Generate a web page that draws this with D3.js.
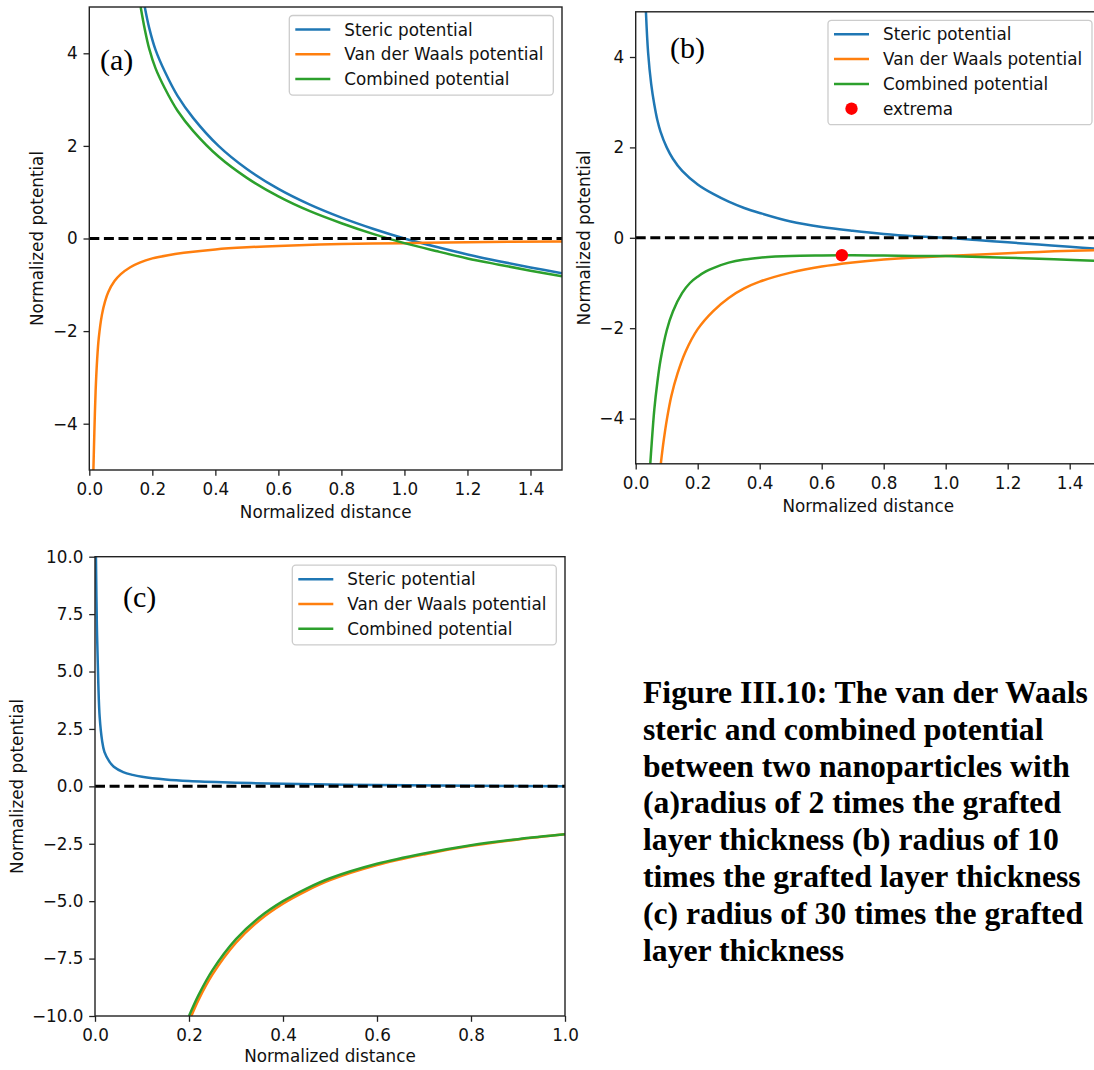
<!DOCTYPE html>
<html>
<head>
<meta charset="utf-8">
<script src="https://cdn.jsdelivr.net/npm/d3@7"></script>
<style>
  html, body { margin: 0; padding: 0; background: #fff; overflow: hidden; }
</style>
</head>
<body>
<svg id="fig" width="1094" height="1070"></svg>
<script>
// ---- Data ---------------------------------------------------------------
const seriesNames = ["Steric potential", "Van der Waals potential", "Combined potential"];
const extremaName = "extrema";
const panelLabels = ["(a)", "(b)", "(c)"];
const xLabel = "Normalized distance";
const yLabel = "Normalized potential";

const xTicksAB = [0, 0.2, 0.4, 0.6, 0.8, 1.0, 1.2, 1.4];
const yTicksAB = [-4, -2, 0, 2, 4];
const xTicksC = [0, 0.2, 0.4, 0.6, 0.8, 1.0];
const yTicksC = [-10, -7.5, -5, -2.5, 0, 2.5, 5, 7.5, 10];

// (a) radius = 2 x grafted layer thickness
const stericA = [[0.176,5.0],[0.19,4.55],[0.21,4.08],[0.24,3.6],[0.28,3.08],[0.33,2.6],[0.41,2.0],[0.5,1.5],
  [0.6,1.07],[0.7,0.73],[0.8,0.45],[0.9,0.21],[1.0,0.0],[1.1,-0.18],[1.2,-0.345],[1.3,-0.49],[1.4,-0.625],[1.5,-0.75]];
const vdwA = [[0.013,-5],[0.016,-4.2],[0.02,-3.3],[0.025,-2.6],[0.03,-2.15],[0.04,-1.65],[0.05,-1.36],[0.06,-1.16],
  [0.08,-0.92],[0.1,-0.77],[0.13,-0.62],[0.16,-0.52],[0.2,-0.43],[0.25,-0.36],[0.3,-0.31],[0.4,-0.235],
  [0.5,-0.19],[0.6,-0.16],[0.8,-0.12],[1.0,-0.1],[1.2,-0.08],[1.5,-0.065]];
const combinedA = [[0.163,5.0],[0.176,4.52],[0.19,4.1],[0.21,3.68],[0.24,3.24],[0.28,2.76],[0.33,2.32],
  [0.41,1.77],[0.5,1.31],[0.6,0.91],[0.7,0.59],[0.8,0.33],[0.9,0.1],[1.0,-0.1],[1.1,-0.27],[1.2,-0.43],
  [1.3,-0.565],[1.4,-0.695],[1.5,-0.815]];

// (b) radius = 10 x grafted layer thickness
const stericB = [[0.033,5.0],[0.04,4.1],[0.05,3.4],[0.06,2.95],[0.07,2.6],[0.08,2.35],[0.1,2.0],[0.12,1.75],
  [0.15,1.48],[0.2,1.18],[0.25,0.97],[0.3,0.8],[0.35,0.66],[0.4,0.55],[0.5,0.36],[0.6,0.24],[0.7,0.155],
  [0.8,0.085],[0.9,0.035],[1.0,0.0],[1.1,-0.05],[1.2,-0.1],[1.3,-0.15],[1.4,-0.2],[1.5,-0.245]];
const vdwB = [[0.081,-5],[0.09,-4.5],[0.101,-4],[0.115,-3.5],[0.135,-3.0],[0.16,-2.53],[0.2,-2.02],[0.25,-1.62],
  [0.3,-1.33],[0.35,-1.12],[0.4,-0.97],[0.5,-0.77],[0.6,-0.635],[0.7,-0.545],[0.8,-0.48],[0.9,-0.435],
  [1.0,-0.405],[1.2,-0.34],[1.35,-0.3],[1.5,-0.27]];
const combinedB = [[0.047,-5],[0.05,-4.7],[0.06,-3.8],[0.07,-3.19],[0.08,-2.71],[0.1,-2.05],[0.12,-1.63],
  [0.15,-1.22],[0.175,-1.0],[0.2,-0.86],[0.225,-0.75],[0.25,-0.67],[0.3,-0.55],[0.35,-0.48],[0.4,-0.44],
  [0.45,-0.415],[0.5,-0.4],[0.6,-0.39],[0.665,-0.386],[0.7,-0.387],[0.8,-0.393],[0.9,-0.4],[1.0,-0.405],
  [1.2,-0.44],[1.35,-0.475],[1.5,-0.515]];
const extremaB = [[0.665,-0.386]];

// (c) radius = 30 x grafted layer thickness
const stericC = [[0.002,10],[0.004,7],[0.007,4.5],[0.01,3.0],[0.015,2.0],[0.02,1.5],[0.03,1.1],[0.04,0.85],
  [0.06,0.62],[0.08,0.5],[0.1,0.42],[0.15,0.3],[0.2,0.23],[0.3,0.16],[0.4,0.11],[0.6,0.06],[0.8,0.03],[1.0,0.0]];
const vdwC = [[0.205,-10],[0.22,-9.31],[0.25,-8.19],[0.3,-6.81],[0.35,-5.83],[0.4,-5.11],[0.45,-4.55],
  [0.5,-4.085],[0.6,-3.43],[0.7,-2.965],[0.8,-2.59],[0.9,-2.315],[1.0,-2.09]];
const combinedC = [[0.2,-10],[0.22,-9.1],[0.25,-8.0],[0.3,-6.65],[0.35,-5.7],[0.4,-5.0],[0.45,-4.45],
  [0.5,-4.0],[0.6,-3.37],[0.7,-2.92],[0.8,-2.56],[0.9,-2.3],[1.0,-2.09]];

const captionLines = [
  "Figure III.10: The van der Waals",
  "steric and combined potential",
  "between two nanoparticles with",
  "(a)radius of 2 times the grafted",
  "layer thickness (b) radius of 10",
  "times the grafted layer thickness",
  "(c) radius of 30 times the grafted",
  "layer thickness"
];

// ---- Style & layout -----------------------------------------------------
const colors = ["#1f77b4", "#ff7f0e", "#2ca02c"];
const FONT = "'DejaVu Sans', Verdana, sans-serif";
const FS = 16.8;
const AXIS_COLOR = "#222";

const panels = [
  { key: "a", label: panelLabels[0], left: 89.3, right: 562, top: 7, bottom: 470,
    xDomain: [0, 1.5], yDomain: [-5, 5], xTicks: xTicksAB, yTicks: yTicksAB,
    xFmt: d3.format(".1f"), yFmt: d3.format("d"),
    series: [stericA, vdwA, combinedA], extrema: null,
    labelPos: [100, 70], yLabelX: 36.5, xLabelDy: 48, tickDy: 7.0 },
  { key: "b", label: panelLabels[1], left: 635.7, right: 1100.7, top: 11.8, bottom: 463.8,
    xDomain: [0, 1.5], yDomain: [-5, 5], xTicks: xTicksAB, yTicks: yTicksAB,
    xFmt: d3.format(".1f"), yFmt: d3.format("d"),
    series: [stericB, vdwB, combinedB], extrema: extremaB,
    labelPos: [670, 58], yLabelX: 584, xLabelDy: 48, tickDy: 7.0 },
  { key: "c", label: panelLabels[2], left: 95, right: 565, top: 556.7, bottom: 1016,
    xDomain: [0, 1.0], yDomain: [-10, 10], xTicks: xTicksC, yTicks: yTicksC,
    xFmt: d3.format(".1f"), yFmt: d3.format(".1f"),
    series: [stericC, vdwC, combinedC], extrema: null,
    labelPos: [123, 607], yLabelX: 16.5, xLabelDy: 46, tickDy: 7.5 }
];

const svg = d3.select("#fig");
svg.append("rect").attr("width", 1094).attr("height", 1070).attr("fill", "#fff");
const defs = svg.append("defs");

function drawPanel(p) {
  const x = d3.scaleLinear().domain(p.xDomain).range([p.left, p.right]);
  const y = d3.scaleLinear().domain(p.yDomain).range([p.bottom, p.top]);
  const g = svg.append("g").attr("class", "panel-" + p.key);

  defs.append("clipPath").attr("id", "clip-" + p.key)
    .append("rect").attr("x", p.left).attr("y", p.top)
    .attr("width", p.right - p.left).attr("height", p.bottom - p.top);

  const plot = g.append("g").attr("clip-path", `url(#clip-${p.key})`);
  const smooth = d3.line().x(d => x(d[0])).y(d => y(d[1])).curve(d3.curveCatmullRom.alpha(0.5));

  p.series.forEach((s, i) => {
    plot.append("path").datum(s).attr("d", smooth)
      .attr("fill", "none").attr("stroke", colors[i])
      .attr("stroke-width", 2.5).attr("stroke-linejoin", "round");
  });

  // horizontal reference at zero
  const straight = d3.line().x(d => x(d[0])).y(d => y(d[1]));
  plot.append("path").datum(p.xDomain.map(v => [v, 0])).attr("d", straight)
    .attr("fill", "none").attr("stroke", "#000").attr("stroke-width", 3)
    .attr("stroke-dasharray", "10,4.6");

  if (p.extrema) {
    plot.selectAll("circle.ext").data(p.extrema).join("circle")
      .attr("class", "ext").attr("cx", d => x(d[0])).attr("cy", d => y(d[1]))
      .attr("r", 6.2).attr("fill", "#ff0000");
  }

  // axes
  const xAxis = d3.axisBottom(x).tickValues(p.xTicks).tickFormat(p.xFmt)
    .tickSizeInner(5.8).tickSizeOuter(0).tickPadding(p.tickDy);
  const yAxis = d3.axisLeft(y).tickValues(p.yTicks).tickFormat(p.yFmt)
    .tickSizeInner(5.8).tickSizeOuter(0).tickPadding(5.8);

  const gx = g.append("g").attr("transform", `translate(0,${p.bottom})`).call(xAxis);
  const gy = g.append("g").attr("transform", `translate(${p.left},0)`).call(yAxis);
  [gx, gy].forEach(a => {
    a.attr("font-family", FONT).attr("font-size", FS).style("color", AXIS_COLOR);
    a.select(".domain").remove();
    a.selectAll(".tick line").attr("stroke-width", 1.3);
    a.selectAll(".tick text").attr("fill", "#111");
  });

  // frame
  g.append("rect").attr("x", p.left).attr("y", p.top)
    .attr("width", p.right - p.left).attr("height", p.bottom - p.top)
    .attr("fill", "none").attr("stroke", AXIS_COLOR).attr("stroke-width", 1.4);

  // axis titles
  g.append("text").attr("x", (p.left + p.right) / 2).attr("y", p.bottom + p.xLabelDy)
    .attr("text-anchor", "middle").attr("font-family", FONT).attr("font-size", FS)
    .attr("fill", "#111").text(xLabel);
  const yc = (p.top + p.bottom) / 2;
  g.append("text").attr("transform", `translate(${p.yLabelX},${yc}) rotate(-90)`)
    .attr("text-anchor", "middle").attr("dominant-baseline", "central")
    .attr("font-family", FONT).attr("font-size", FS).attr("fill", "#111").text(yLabel);

  // panel tag
  g.append("text").attr("x", p.labelPos[0]).attr("y", p.labelPos[1])
    .attr("font-family", "'Liberation Serif', 'Times New Roman', serif")
    .attr("font-size", 30).attr("fill", "#000").text(p.label);

  // legend
  const entries = seriesNames.map((n, i) => ({ name: n, kind: "line", color: colors[i] }));
  if (p.extrema) entries.push({ name: extremaName, kind: "dot", color: "#ff0000" });
  const lgW = 264, rowH = 24.8;
  const lgRight = p.right - 8.7, lgTop = p.top + 8.5;
  const lgLeft = lgRight - lgW;
  const lgH = 14 + (entries.length - 1) * rowH + 16;
  const lg = g.append("g");
  lg.append("rect").attr("x", lgLeft).attr("y", lgTop).attr("width", lgW).attr("height", lgH)
    .attr("rx", 3.5).attr("fill", "#fff").attr("fill-opacity", 0.8)
    .attr("stroke", "#cccccc").attr("stroke-width", 1.3);
  entries.forEach((e, i) => {
    const cy = lgTop + 14 + i * rowH;
    if (e.kind === "line") {
      lg.append("line").attr("x1", lgLeft + 6).attr("x2", lgLeft + 41)
        .attr("y1", cy).attr("y2", cy).attr("stroke", e.color).attr("stroke-width", 2.5);
    } else {
      lg.append("circle").attr("cx", lgLeft + 23.5).attr("cy", cy).attr("r", 6.2).attr("fill", e.color);
    }
    lg.append("text").attr("x", lgLeft + 55).attr("y", cy)
      .attr("dominant-baseline", "central").attr("font-family", FONT)
      .attr("font-size", FS).attr("fill", "#111").text(e.name);
  });
}

panels.forEach(drawPanel);

// caption
const cap = svg.append("text").attr("x", 643).attr("y", 702.7)
  .attr("font-family", "'Liberation Serif', 'Times New Roman', serif")
  .attr("font-weight", "bold").attr("font-size", 31.7).attr("fill", "#000");
captionLines.forEach((t, i) => {
  cap.append("tspan").attr("x", 643).attr("y", 702.7 + i * 36.9).text(t);
});
</script>
</body>
</html>
